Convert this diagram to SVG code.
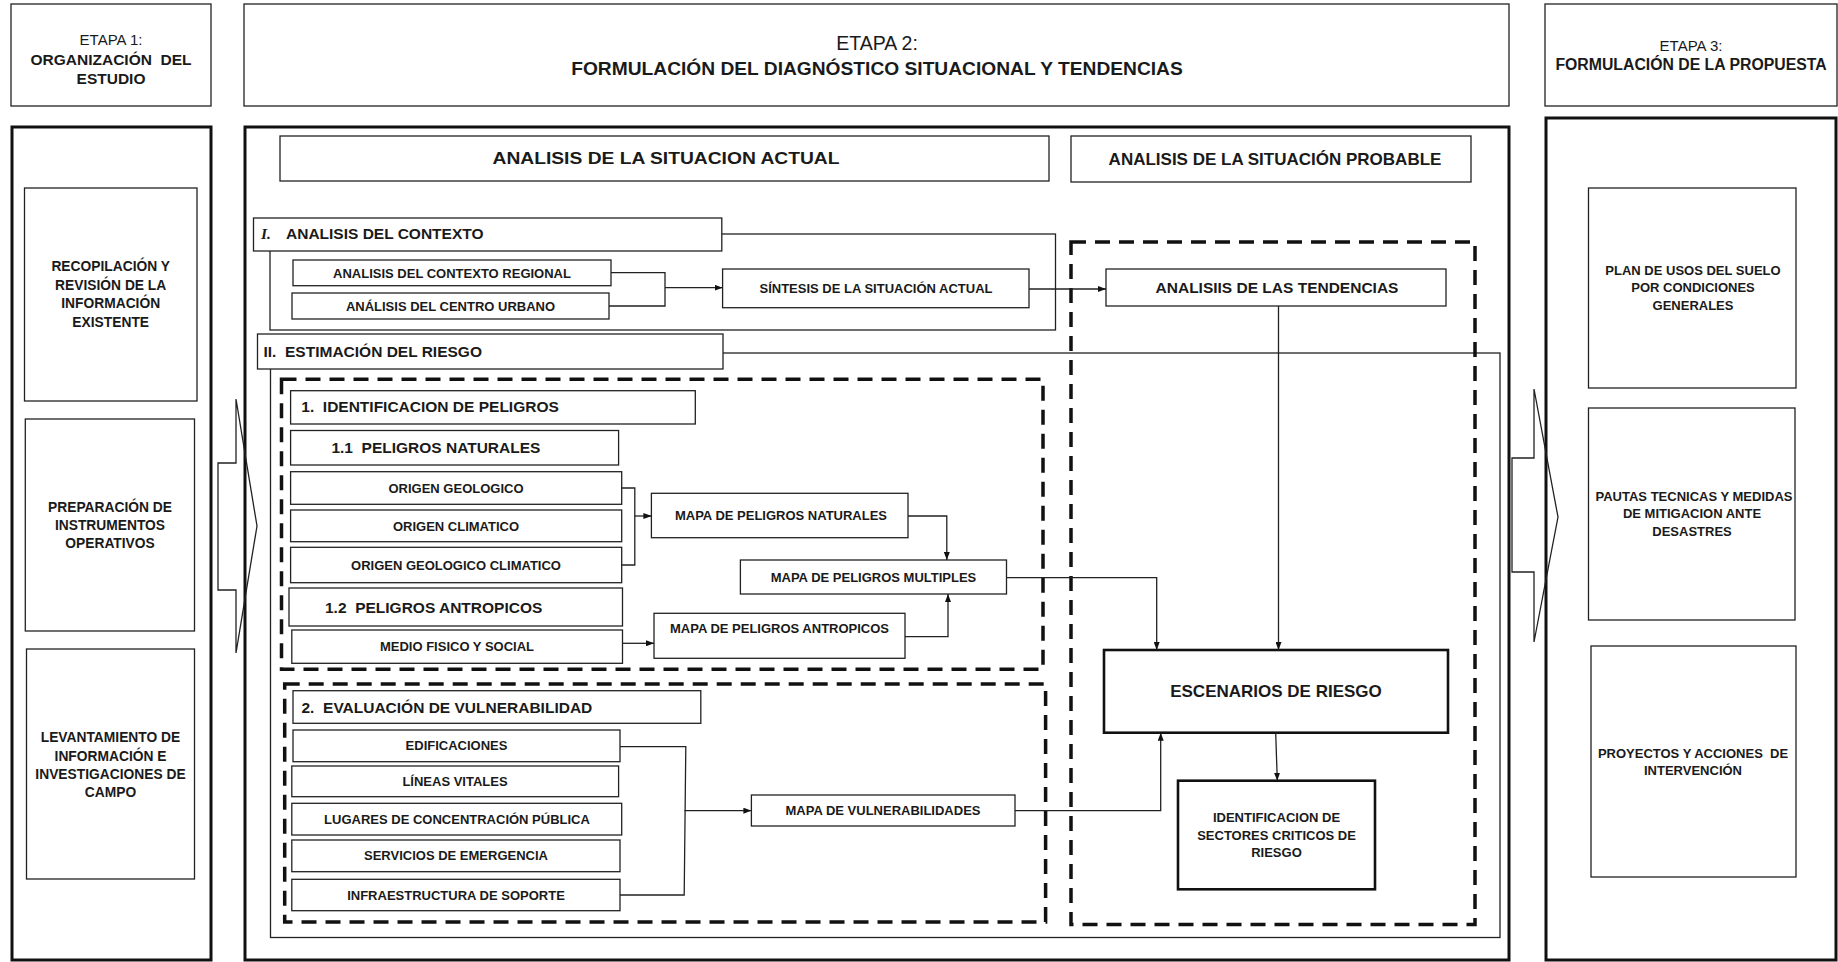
<svg xmlns="http://www.w3.org/2000/svg" width="1838" height="962" viewBox="0 0 1838 962">
<defs>
<style>
.b{fill:#fff;stroke:#222;stroke-width:1.3}
.bt{fill:#fff;stroke:#111;stroke-width:2.6}
.tb{fill:none;stroke:#111;stroke-width:3}
.ct{fill:none;stroke:#222;stroke-width:1.3}
.d{fill:none;stroke:#111;stroke-width:3.5;stroke-dasharray:15 9}
.c{fill:none;stroke:#222;stroke-width:1.3}
.t{font-family:"Liberation Sans",Arial,sans-serif;font-weight:bold;fill:#1a1a1a}
.r{font-weight:normal}
.m{text-anchor:middle}
.s13{font-size:13px}
.s14{font-size:13.8px}
.s15{font-size:15.5px}
.s17{font-size:17px}
.i{font-family:"Liberation Serif","Times New Roman",serif;font-style:italic;font-weight:bold;font-size:15.5px;fill:#1a1a1a}
</style>
<marker id="ah" markerUnits="userSpaceOnUse" markerWidth="8" markerHeight="6" refX="8" refY="3" orient="auto">
<path d="M0,0 L8,3 L0,6 z" fill="#111"/>
</marker>
</defs>
<rect width="1838" height="962" fill="#fff"/>

<g id="etapa1">
<rect class="b" x="11" y="4" width="200" height="102"/>
<text class="t m r" x="111" y="45" font-size="15">ETAPA 1:</text>
<text class="t m s15" x="111" y="64.5" xml:space="preserve">ORGANIZACIÓN  DEL</text>
<text class="t m s15" x="111" y="84">ESTUDIO</text>
<rect class="tb" x="12" y="127" width="199" height="833"/>
</g>
<g id="etapa2">
<rect class="b" x="244" y="4" width="1265" height="102"/>
<text class="t m r" x="877" y="50" font-size="19.5">ETAPA 2:</text>
<text class="t m" x="877" y="74.5" font-size="19.2">FORMULACIÓN DEL DIAGNÓSTICO SITUACIONAL Y TENDENCIAS</text>
<rect class="tb" x="245" y="127" width="1264" height="833"/>
</g>
<g id="etapa3">
<rect class="b" x="1545" y="4" width="292" height="102"/>
<text class="t m r" x="1691" y="50.5" font-size="15">ETAPA 3:</text>
<text class="t m" x="1691" y="70" font-size="15.8">FORMULACIÓN DE LA PROPUESTA</text>
<rect class="tb" x="1546" y="118" width="290" height="842"/>
</g>

<g id="flecha-1">
<polygon class="c" points="236,399 257,526 236,653 236,590 218,590 218,463 236,463"/>
</g>
<g id="flecha-2">
<polygon class="c" points="1534,389 1558,517 1534,642 1534,572 1512,572 1512,458 1534,458"/>
</g>

<g id="recopilacion">
<rect class="b" x="24.5" y="188" width="172.5" height="213"/>
<text class="t m s14" x="110.7" y="271">RECOPILACIÓN Y</text>
<text class="t m s14" x="110.7" y="289.5">REVISIÓN DE LA</text>
<text class="t m s14" x="110.7" y="308">INFORMACIÓN</text>
<text class="t m s14" x="110.7" y="326.5">EXISTENTE</text>
</g>
<g id="preparacion">
<rect class="b" x="25.3" y="419" width="169.2" height="212"/>
<text class="t m s14" x="110" y="512">PREPARACIÓN DE</text>
<text class="t m s14" x="110" y="530">INSTRUMENTOS</text>
<text class="t m s14" x="110" y="548">OPERATIVOS</text>
</g>
<g id="levantamiento">
<rect class="b" x="26.5" y="649" width="168" height="230"/>
<text class="t m s14" x="110.5" y="742">LEVANTAMIENTO DE</text>
<text class="t m s14" x="110.5" y="760.5">INFORMACIÓN E</text>
<text class="t m s14" x="110.5" y="779">INVESTIGACIONES DE</text>
<text class="t m s14" x="110.5" y="797">CAMPO</text>
</g>

<g id="plan-usos">
<rect class="b" x="1588.5" y="188" width="207.5" height="200"/>
<text class="t m s13" x="1693" y="275">PLAN DE USOS DEL SUELO</text>
<text class="t m s13" x="1693" y="292">POR CONDICIONES</text>
<text class="t m s13" x="1693" y="309.5">GENERALES</text>
</g>
<g id="pautas">
<rect class="b" x="1588.5" y="408" width="206.5" height="212"/>
<text class="t m s13" x="1694" y="500.5">PAUTAS TECNICAS Y MEDIDAS</text>
<text class="t m s13" x="1692" y="518">DE MITIGACION ANTE</text>
<text class="t m s13" x="1692" y="535.5">DESASTRES</text>
</g>
<g id="proyectos">
<rect class="b" x="1591" y="646" width="205" height="231"/>
<text class="t m s13" x="1693" y="757.5" xml:space="preserve">PROYECTOS Y ACCIONES  DE</text>
<text class="t m s13" x="1693" y="774.5">INTERVENCIÓN</text>
</g>

<g id="situacion-actual">
<rect class="b" x="280" y="136" width="769" height="45"/>
<text class="t m" x="666" y="164" font-size="17" textLength="347" lengthAdjust="spacingAndGlyphs">ANALISIS DE LA SITUACION ACTUAL</text>
</g>
<g id="situacion-probable">
<rect class="b" x="1071" y="136" width="400" height="46"/>
<text class="t m s17" x="1275" y="165">ANALISIS DE LA SITUACIÓN PROBABLE</text>
</g>

<g id="contenedores">
<rect class="ct" x="270" y="234" width="785.5" height="96"/>
<rect class="ct" x="270.5" y="353" width="1229.5" height="584.5"/>
<rect class="d" x="281.5" y="379.3" width="761.5" height="290"/>
<rect class="d" x="284.7" y="684" width="760.9" height="238"/>
<rect class="d" x="1071" y="242" width="404" height="682.5"/>
</g>

<g id="contexto">
<rect class="b" x="253.5" y="218" width="468.3" height="33"/>
<text class="i" x="261" y="239">I.</text>
<text class="t s15" x="286" y="239">ANALISIS DEL CONTEXTO</text>
</g>
<g id="contexto-regional">
<rect class="b" x="293" y="260" width="318" height="25.7"/>
<text class="t m s13" x="452" y="277.5">ANALISIS DEL CONTEXTO REGIONAL</text>
</g>
<g id="centro-urbano">
<rect class="b" x="292" y="293" width="317" height="26"/>
<text class="t m s13" x="450.5" y="310.8">ANÁLISIS DEL CENTRO URBANO</text>
</g>
<g id="sintesis">
<rect class="b" x="722.6" y="269" width="306.4" height="38.7"/>
<text class="t m s13" x="876" y="293">SÍNTESIS DE LA SITUACIÓN ACTUAL</text>
</g>
<g id="tendencias">
<rect class="b" x="1106" y="269" width="340" height="37"/>
<text class="t m s15" x="1277" y="293">ANALISIIS DE LAS TENDENCIAS</text>
</g>

<g id="estimacion">
<rect class="b" x="257.5" y="334" width="465.5" height="35"/>
<text class="t s15" x="263.5" y="356.5" xml:space="preserve">II.  ESTIMACIÓN DEL RIESGO</text>
</g>
<g id="identificacion-peligros">
<rect class="b" x="290.6" y="390.7" width="404.7" height="33.3"/>
<text class="t s15" x="301.3" y="412" xml:space="preserve">1.  IDENTIFICACION DE PELIGROS</text>
</g>
<g id="peligros-naturales">
<rect class="b" x="290.6" y="430.5" width="328" height="34.5"/>
<text class="t s15" x="331.4" y="453" xml:space="preserve">1.1  PELIGROS NATURALES</text>
</g>
<g id="origen-geologico">
<rect class="b" x="290.6" y="471.7" width="331.1" height="32.6"/>
<text class="t m s13" x="456" y="492.5">ORIGEN GEOLOGICO</text>
</g>
<g id="origen-climatico">
<rect class="b" x="290.6" y="510" width="331.1" height="31.7"/>
<text class="t m s13" x="456" y="530.5">ORIGEN CLIMATICO</text>
</g>
<g id="origen-geo-climatico">
<rect class="b" x="290.6" y="547.3" width="331.1" height="35.4"/>
<text class="t m s13" x="456" y="569.5">ORIGEN GEOLOGICO CLIMATICO</text>
</g>
<g id="peligros-antropicos">
<rect class="b" x="289" y="588" width="333.5" height="38"/>
<text class="t s15" x="325" y="612.5" xml:space="preserve">1.2  PELIGROS ANTROPICOS</text>
</g>
<g id="medio-fisico">
<rect class="b" x="291.8" y="630" width="330.7" height="33.3"/>
<text class="t m s13" x="457" y="651.3">MEDIO FISICO Y SOCIAL</text>
</g>
<g id="mapa-naturales">
<rect class="b" x="651.4" y="493.3" width="256.6" height="44.4"/>
<text class="t m s13" x="781" y="520">MAPA DE PELIGROS NATURALES</text>
</g>
<g id="mapa-multiples">
<rect class="b" x="740.4" y="560" width="266.1" height="34"/>
<text class="t m s13" x="873.5" y="581.5">MAPA DE PELIGROS MULTIPLES</text>
</g>
<g id="mapa-antropicos">
<rect class="b" x="654" y="613.3" width="251" height="45"/>
<text class="t m s13" x="779.5" y="633.3">MAPA DE PELIGROS ANTROPICOS</text>
</g>

<g id="vulnerabilidad">
<rect class="b" x="293" y="690.7" width="407.8" height="32.6"/>
<text class="t s15" x="301.5" y="712.5" xml:space="preserve">2.  EVALUACIÓN DE VULNERABILIDAD</text>
</g>
<g id="edificaciones">
<rect class="b" x="293" y="730" width="327" height="31.7"/>
<text class="t m s13" x="456.5" y="750.3">EDIFICACIONES</text>
</g>
<g id="lineas-vitales">
<rect class="b" x="291.8" y="766" width="326.8" height="30.7"/>
<text class="t m s13" x="455" y="786">LÍNEAS VITALES</text>
</g>
<g id="lugares">
<rect class="b" x="291.8" y="803.3" width="329.9" height="31.7"/>
<text class="t m s13" x="457" y="823.6">LUGARES DE CONCENTRACIÓN PÚBLICA</text>
</g>
<g id="servicios">
<rect class="b" x="291.8" y="840" width="328.2" height="31.7"/>
<text class="t m s13" x="456" y="860.4">SERVICIOS DE EMERGENCIA</text>
</g>
<g id="infraestructura">
<rect class="b" x="291.8" y="879.3" width="328.2" height="31.4"/>
<text class="t m s13" x="456" y="899.6">INFRAESTRUCTURA DE SOPORTE</text>
</g>
<g id="mapa-vulnerabilidades">
<rect class="b" x="751.4" y="795" width="263.6" height="31"/>
<text class="t m s13" x="883" y="815.2">MAPA DE VULNERABILIDADES</text>
</g>

<g id="escenarios">
<rect class="bt" x="1104" y="650" width="344" height="82.7"/>
<text class="t m s17" x="1276" y="697">ESCENARIOS DE RIESGO</text>
</g>
<g id="sectores-criticos">
<rect class="bt" x="1178" y="780.7" width="197" height="108.6"/>
<text class="t m s13" x="1276.5" y="822">IDENTIFICACION DE</text>
<text class="t m s13" x="1276.5" y="839.5">SECTORES CRITICOS DE</text>
<text class="t m s13" x="1276.5" y="857">RIESGO</text>
</g>

<g id="conectores">
<polyline class="c" points="611,272.7 665,272.7 665,306 609,306"/>
<line class="c" x1="665" y1="287.7" x2="722.6" y2="287.7" marker-end="url(#ah)"/>
<line class="c" x1="1029" y1="289" x2="1106" y2="289" marker-end="url(#ah)"/>
<line class="c" x1="1278.5" y1="306" x2="1278.5" y2="650" marker-end="url(#ah)"/>
<polyline class="c" points="621.7,488 634.8,488 634.8,565 621.7,565"/>
<line class="c" x1="634.8" y1="516" x2="651.4" y2="516" marker-end="url(#ah)"/>
<polyline class="c" points="908,516 946.8,516 946.8,560" marker-end="url(#ah)"/>
<line class="c" x1="622.5" y1="643.3" x2="654" y2="643.3" marker-end="url(#ah)"/>
<polyline class="c" points="905,636.7 948,636.7 948,594" marker-end="url(#ah)"/>
<polyline class="c" points="1006.5,577.7 1156.7,577.7 1156.7,650" marker-end="url(#ah)"/>
<polyline class="c" points="620,746.7 685.8,746.7 684.2,895 620,895"/>
<line class="c" x1="684.5" y1="810.7" x2="751.4" y2="810.7" marker-end="url(#ah)"/>
<polyline class="c" points="1015,810.7 1160.7,810.7 1160.7,732.7" marker-end="url(#ah)"/>
<line class="c" x1="1275.7" y1="732.7" x2="1277.3" y2="780.7" marker-end="url(#ah)"/>
</g>
</svg>
